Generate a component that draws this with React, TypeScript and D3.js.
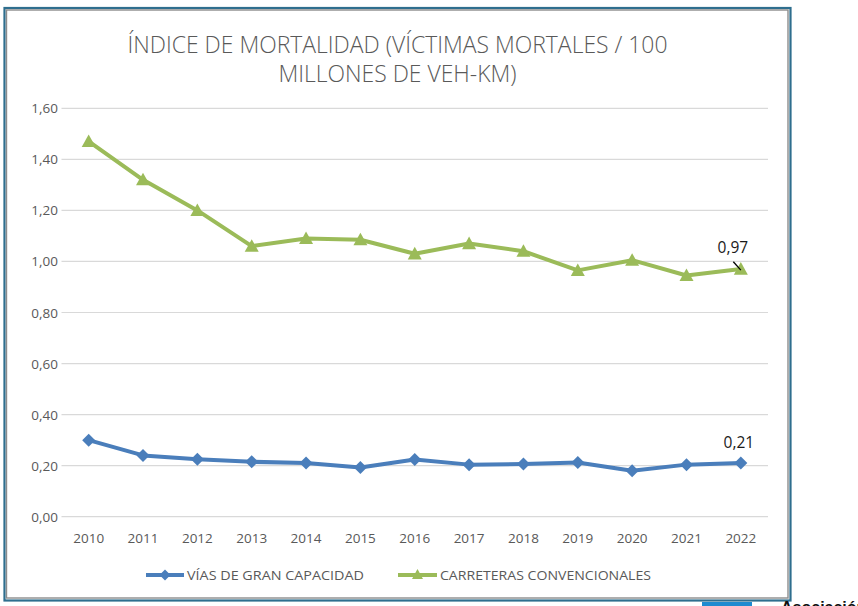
import React from "react";
import * as d3 from "d3";

const years = ["2010","2011","2012","2013","2014","2015","2016","2017","2018","2019","2020","2021","2022"];
const viasGranCapacidad = [0.30, 0.24, 0.225, 0.215, 0.21, 0.193, 0.224, 0.204, 0.206, 0.212, 0.18, 0.204, 0.21];
const carreterasConvencionales = [1.47, 1.32, 1.20, 1.06, 1.09, 1.085, 1.03, 1.07, 1.04, 0.965, 1.005, 0.945, 0.97];
const yTicks = [0, 0.2, 0.4, 0.6, 0.8, 1.0, 1.2, 1.4, 1.6];
const titleLines = ["ÍNDICE DE MORTALIDAD (VÍCTIMAS MORTALES / 100", "MILLONES DE VEH-KM)"];
const seriesNames = ["VÍAS DE GRAN CAPACIDAD", "CARRETERAS CONVENCIONALES"];
const lastLabels = ["0,21", "0,97"];

const BLUE = "#4A7EBB";
const GREEN = "#9BBB59";
const FONT = "'Open Sans', 'DejaVu Sans', sans-serif";

export default function App() {
  const W = 858, H = 606;
  const x = d3.scaleBand<string>().domain(years).range([61.5, 768]);
  const y = d3.scaleLinear().domain([0, 1.6]).range([516.7, 108.3]);
  const cx = (d: string) => (x(d) as number) + x.bandwidth() / 2;
  const line = d3.line<number>().x((_, i) => cx(years[i])).y((v) => y(v));
  const fmt = (v: number) => v.toFixed(2).replace(".", ",");
  const diamond = (px: number, py: number, r = 6.5) => `M${px},${py - r}L${px + r},${py}L${px},${py + r}L${px - r},${py}Z`;
  const tri = (px: number, py: number, s = 7) => `M${px},${py - s}L${px + s},${py + s * 0.8}L${px - s},${py + s * 0.8}Z`;

  const lastX = cx(years[years.length - 1]);
  const lastG = y(carreterasConvencionales[carreterasConvencionales.length - 1]);
  const lastB = y(viasGranCapacidad[viasGranCapacidad.length - 1]);

  return (
    <svg width={W} height={H} style={{ position: "absolute", left: 0, top: 0, display: "block" }} fontFamily={FONT}>
      <rect x={0} y={0} width={W} height={H} fill="#ffffff" />
      {/* frame */}
      <rect x={4.5} y={8} width={786} height={592.5} fill="#ffffff" stroke="#2E6E8E" strokeWidth={2.2} />
      <rect x={6.5} y={10} width={781.5} height={588} fill="none" stroke="#8C8C8C" strokeWidth={1.4} />
      {/* title */}
      {titleLines.map((t, i) => (
        <text key={i} x={397.5} y={53 + i * 29} textAnchor="middle" fontSize={23} fontWeight={300} fill="#595959"
          textLength={i === 0 ? 540 : 238} lengthAdjust="spacingAndGlyphs">{t}</text>
      ))}
      {/* grid + y labels */}
      {yTicks.map((t) => (
        <g key={t}>
          <line x1={61.5} x2={768} y1={y(t)} y2={y(t)} stroke="#D9D9D9" strokeWidth={1.2} />
          <text x={58} y={y(t) + 5} textAnchor="end" fontSize={13.5} fill="#595959">{fmt(t)}</text>
        </g>
      ))}
      {/* x labels */}
      {years.map((yr) => (
        <text key={yr} x={cx(yr)} y={543} textAnchor="middle" fontSize={13.5} fill="#595959">{yr}</text>
      ))}
      {/* lines */}
      <path d={line(viasGranCapacidad) || ""} fill="none" stroke={BLUE} strokeWidth={4} strokeLinejoin="round" />
      <path d={line(carreterasConvencionales) || ""} fill="none" stroke={GREEN} strokeWidth={4} strokeLinejoin="round" />
      {viasGranCapacidad.map((v, i) => (
        <path key={"b" + i} d={diamond(cx(years[i]), y(v))} fill={BLUE} />
      ))}
      {carreterasConvencionales.map((v, i) => (
        <path key={"g" + i} d={tri(cx(years[i]), y(v))} fill={GREEN} />
      ))}
      {/* data labels */}
      <text x={lastX - 8} y={253} textAnchor="middle" fontSize={15.5} fill="#1a1a1a">{lastLabels[1]}</text>
      <line x1={lastX - 7.5} y1={261.7} x2={lastX} y2={lastG + 1} stroke="#000" strokeWidth={1.3} />
      <text x={lastX - 2} y={lastB - 15} textAnchor="middle" fontSize={15.5} fill="#1a1a1a">{lastLabels[0]}</text>
      {/* legend */}
      <g>
        <line x1={146} x2={184} y1={575} y2={575} stroke={BLUE} strokeWidth={4} />
        <path d={diamond(165, 575, 5.5)} fill={BLUE} />
        <text x={187} y={580} fontSize={13.5} fill="#595959" textLength={177} lengthAdjust="spacingAndGlyphs">{seriesNames[0]}</text>
        <line x1={398} x2={437} y1={575} y2={575} stroke={GREEN} strokeWidth={4} />
        <path d={tri(417.5, 574.5, 5.5)} fill={GREEN} />
        <text x={440} y={580} fontSize={13.5} fill="#595959" textLength={211} lengthAdjust="spacingAndGlyphs">{seriesNames[1]}</text>
      </g>
      {/* fragments outside frame */}
      <rect x={702} y={602} width={50} height={6} fill="#1E8BD0" />
      <text x={781} y={613} fontSize={16} fontWeight="bold" fill="#111" fontFamily="'Liberation Sans', Arial, sans-serif">Asociación</text>
    </svg>
  );
}
